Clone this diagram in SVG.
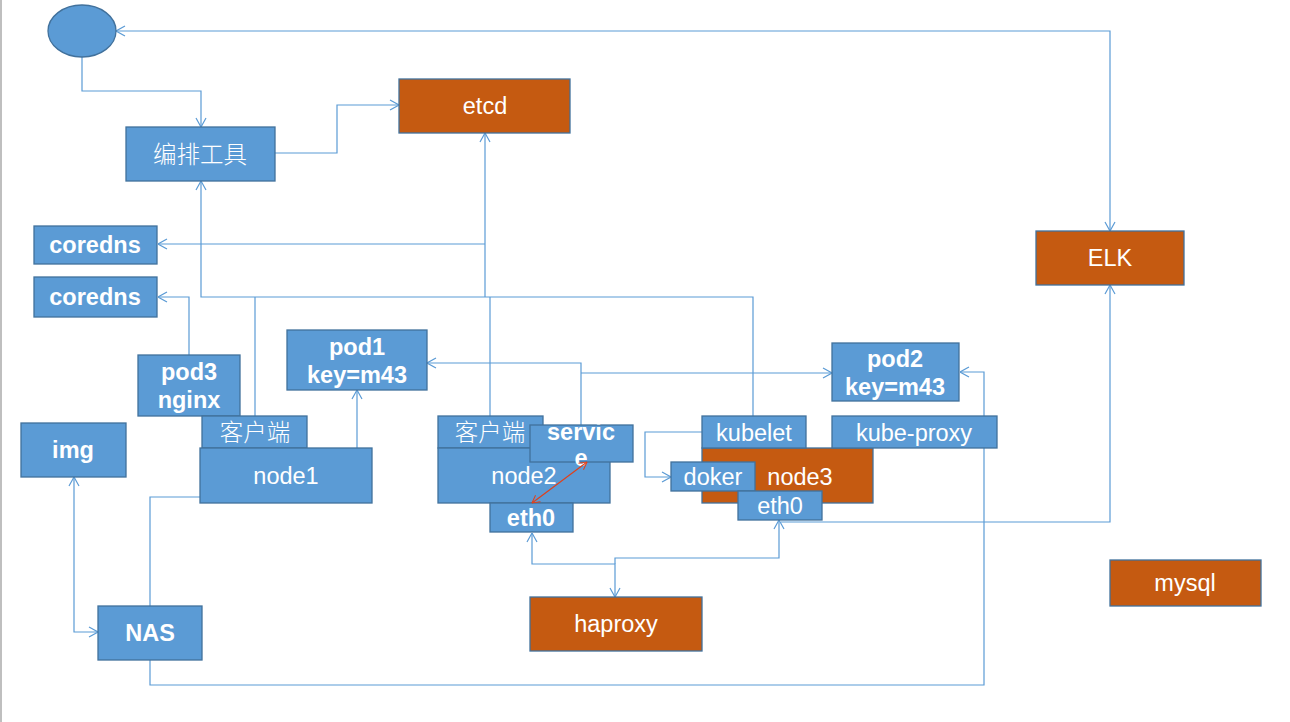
<svg xmlns="http://www.w3.org/2000/svg" width="1290" height="722" viewBox="0 0 1290 722">
<style>
.b{fill:#5B9BD5;stroke:#41719C;stroke-width:1.3}
.o{fill:#C55A11;stroke:#41719C;stroke-width:1.3}
.t{fill:#fff;font-family:"Liberation Sans","Noto Sans CJK SC",sans-serif;font-size:23.5px;text-anchor:middle}
.tb{fill:#fff;font-family:"Liberation Sans","Noto Sans CJK SC",sans-serif;font-size:23.5px;font-weight:bold;text-anchor:middle}
.tc{fill:#fff;font-family:"Noto Sans CJK SC",sans-serif;font-size:23.5px;font-weight:300;text-anchor:middle}
.c{fill:none;stroke:#5B9BD5;stroke-width:1.2}
</style>
<defs>
<marker id="a" viewBox="0 0 10 12" markerWidth="10" markerHeight="12" refX="10" refY="6" orient="auto-start-reverse" markerUnits="userSpaceOnUse">
<path d="M1,1 L10,6 L1,11" fill="none" stroke="#5B9BD5" stroke-width="1.2"/>
</marker>
<marker id="r" viewBox="0 0 10 12" markerWidth="9" markerHeight="10" refX="10" refY="6" orient="auto-start-reverse" markerUnits="userSpaceOnUse">
<path d="M1,1 L10,6 L1,11" fill="none" stroke="#E0401A" stroke-width="1.2"/>
</marker>
</defs>
<rect width="1290" height="722" fill="#fff"/>
<line x1="1" y1="0" x2="1" y2="722" stroke="#BFBFBF" stroke-width="2"/>
<g id="connectors">
<path class="c" d="M1110,231 V31 H116" marker-start="url(#a)" marker-end="url(#a)"/>
<path class="c" d="M82,57 V91 H201 V127" marker-end="url(#a)"/>
<path class="c" d="M275,153 H337 V105 H399" marker-end="url(#a)"/>
<path class="c" d="M485,297 V133" marker-end="url(#a)"/>
<path class="c" d="M485,244 H158" marker-end="url(#a)"/>
<path class="c" d="M189,355 V297 H158" marker-end="url(#a)"/>
<path class="c" d="M753,416 V297 H201 V181" marker-end="url(#a)"/>
<path class="c" d="M255,416 V297"/>
<path class="c" d="M490,416 V297"/>
<path class="c" d="M357,448 V390" marker-end="url(#a)"/>
<path class="c" d="M581,425 V363 H427" marker-end="url(#a)"/>
<path class="c" d="M581,373 H832" marker-end="url(#a)"/>
<path class="c" d="M74,477 V632 H98" marker-start="url(#a)" marker-end="url(#a)"/>
<path class="c" d="M150,606 V497 H200"/>
<path class="c" d="M150,660 V685 H984 V372 H960" marker-end="url(#a)"/>
<path class="c" d="M702,432 H645 V477 H671" marker-end="url(#a)"/>
<path class="c" d="M532,533 V564 H615 V597" marker-start="url(#a)" marker-end="url(#a)"/>
<path class="c" d="M615,564 V558 H779 V520" marker-end="url(#a)"/>
<path class="c" d="M781,522 H1110 V285" marker-end="url(#a)"/>
</g>
<g id="n-ellipse"><ellipse cx="82" cy="31" rx="34" ry="26" class="b"/></g>
<g id="n-bianpai"><rect x="126" y="127" width="149" height="54" class="b"/><text x="200" y="163" class="tc" font-size="25">编排工具</text></g>
<g id="n-etcd"><rect x="399" y="79" width="171" height="54" class="o"/><text x="485" y="114" class="t">etcd</text></g>
<g id="n-coredns1"><rect x="34" y="226" width="123" height="38" class="b"/><text x="95" y="253" class="tb">coredns</text></g>
<g id="n-coredns2"><rect x="34" y="277" width="123" height="40" class="b"/><text x="95" y="305" class="tb">coredns</text></g>
<g id="n-elk"><rect x="1036" y="231" width="148" height="54" class="o"/><text x="1110" y="266" class="t">ELK</text></g>
<g id="n-pod3"><rect x="138" y="355" width="102" height="61" class="b"/><text x="189" y="380" class="tb">pod3</text><text x="189" y="408" class="tb">nginx</text></g>
<g id="n-pod1"><rect x="287" y="330" width="140" height="60" class="b"/><text x="357" y="355" class="tb">pod1</text><text x="357" y="383" class="tb">key=m43</text></g>
<g id="n-pod2"><rect x="832" y="343" width="127" height="58" class="b"/><text x="895" y="367" class="tb">pod2</text><text x="895" y="395" class="tb">key=m43</text></g>
<g id="n-img"><rect x="21" y="423" width="105" height="54" class="b"/><text x="73" y="458" class="tb">img</text></g>
<g id="n-client1"><rect x="202" y="416" width="105" height="32" class="b"/><text x="255" y="441" class="tc">客户端</text></g>
<g id="n-node1"><rect x="200" y="448" width="172" height="55" class="b"/><text x="286" y="484" class="t">node1</text></g>
<g id="n-nas"><rect x="98" y="606" width="104" height="54" class="b"/><text x="150" y="641" class="tb">NAS</text></g>
<g id="n-client2"><rect x="438" y="416" width="105" height="32" class="b"/><text x="490" y="441" class="tc">客户端</text></g>
<g id="n-node2"><rect x="438" y="448" width="172" height="55" class="b"/><text x="524" y="484" class="t">node2</text></g>
<g id="n-service"><rect x="530" y="425" width="103" height="37" class="b"/><text x="581" y="440" class="tb">servic</text><text x="581" y="466" class="tb">e</text></g>
<g id="n-eth0a"><rect x="490" y="503" width="83" height="29" class="b"/><text x="531" y="526" class="tb">eth0</text></g>
<g id="n-node3"><rect x="702" y="448" width="171" height="55" class="o"/><text x="800" y="485" class="t">node3</text></g>
<g id="n-kubelet"><rect x="702" y="416" width="104" height="32" class="b"/><text x="754" y="441" class="t">kubelet</text></g>
<g id="n-kubeproxy"><rect x="832" y="416" width="165" height="32" class="b"/><text x="914" y="441" class="t">kube-proxy</text></g>
<g id="n-doker"><rect x="671" y="462" width="84" height="29" class="b"/><text x="713" y="485" class="t">doker</text></g>
<g id="n-eth0b"><rect x="738" y="491" width="84" height="29" class="b"/><text x="780" y="514" class="t">eth0</text></g>
<g id="n-haproxy"><rect x="530" y="597" width="172" height="54" class="o"/><text x="616" y="632" class="t">haproxy</text></g>
<g id="n-mysql"><rect x="1110" y="560" width="151" height="46" class="o"/><text x="1185" y="591" class="t">mysql</text></g>
<g id="connectors-top">
<line x1="532" y1="503" x2="587" y2="462" stroke="#E0401A" stroke-width="1.2" marker-start="url(#r)" marker-end="url(#r)"/>
</g>
</svg>
